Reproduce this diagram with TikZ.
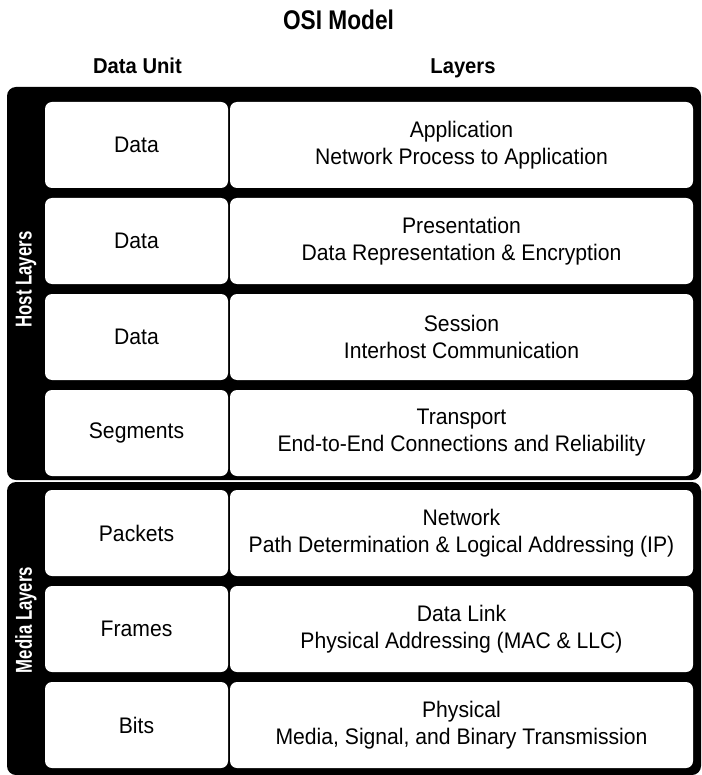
\documentclass[tikz,border=0pt]{standalone}
\usepackage{fontspec}
\setmainfont{Liberation Sans}[FakeStretch=0.94]
\newfontfamily\titlefont{Liberation Sans}[FakeStretch=0.84]
\newfontfamily\sidefont{Liberation Sans}[FakeStretch=0.73]
\usepackage{xcolor}
\usepackage{tikz}

\tikzset{
  unitcell/.style={fill=white, rounded corners=7pt, inner sep=0pt,
    minimum width=183pt, minimum height=86pt, align=center,
    font=\fontsize{22.5}{27}\selectfont},
  layercell/.style={unitcell, minimum width=463pt},
  heading/.style={font=\bfseries\fontsize{21.5}{25}\selectfont},
  sidelabel/.style={font=\sidefont\bfseries\fontsize{23}{26}\selectfont, text=white, rotate=90},
  block/.style={fill=black, rounded corners=9pt}
}

\begin{document}
\begin{tikzpicture}[x=1pt, y=-1pt]
        \useasboundingbox (0, 0) rectangle (701, 775);
        \node[font=\titlefont\bfseries\fontsize{27}{30}\selectfont] (title) at (338.5, 19.5) {OSI Model};
        \node[heading] (unithead) at (137.5, 66) {Data Unit};
        \node[heading] (layerhead) at (463, 68.4) {Layers};

        % host layers
        \fill[block] (7, 87) rectangle (701, 480);
        \node[sidelabel] (host) at (26, 279.5) {Host Layers};
        \node[unitcell] (u7) at (136.5, 145) {Data};
        \node[layercell] (l7) at (461.5, 145) {Application\\Network Process to Application};
        \node[unitcell] (u6) at (136.5, 241) {Data};
        \node[layercell] (l6) at (461.5, 241) {Presentation\\Data Representation \& Encryption};
        \node[unitcell] (u5) at (136.5, 337) {Data};
        \node[layercell] (l5) at (461.5, 337) {Session\\Interhost Communication};
        \node[unitcell] (u4) at (136.5, 433) {Segments};
        \node[layercell] (l4) at (461.5, 433) {Transport\\End-to-End Connections and Reliability};

        % media layers
        \fill[block] (7, 482) rectangle (701, 775);
        \node[sidelabel] (media) at (26, 620) {Media Layers};
        \node[unitcell] (u3) at (136.5, 533) {Packets};
        \node[layercell] (l3) at (461.5, 533) {Network\\Path Determination \& Logical Addressing (IP)};
        \node[unitcell] (u2) at (136.5, 629) {Frames};
        \node[layercell] (l2) at (461.5, 629) {Data Link\\Physical Addressing (MAC \& LLC)};
        \node[unitcell] (u1) at (136.5, 725) {Bits};
        \node[layercell] (l1) at (461.5, 725) {Physical\\Media, Signal, and Binary Transmission};
    \end{tikzpicture}
\end{document}
